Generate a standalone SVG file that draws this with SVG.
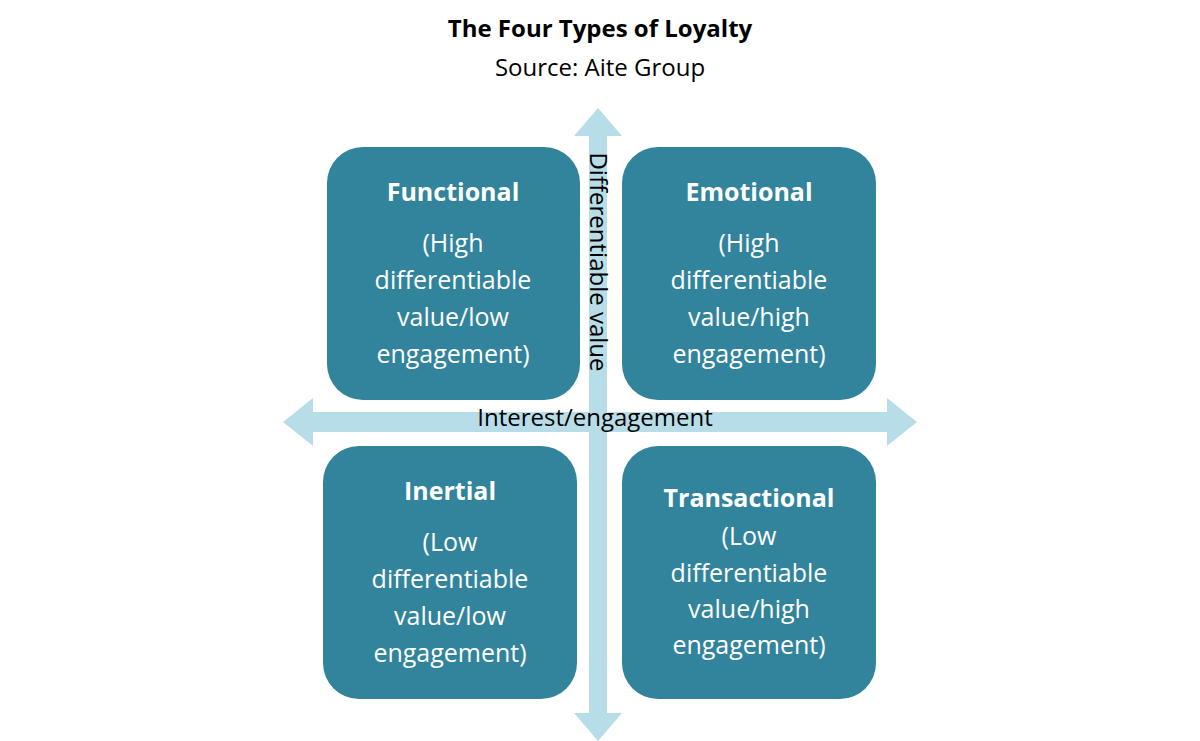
<svg xmlns="http://www.w3.org/2000/svg" width="1200" height="741" viewBox="0 0 1200 741">
<style>
.box{fill:#31849B}
.t{font-family:"Open Sans","Liberation Sans",sans-serif;font-size:25px;fill:#fff;text-anchor:middle}
.b{font-weight:bold}
.k{font-family:"Open Sans","Liberation Sans",sans-serif;font-size:24px;fill:#000;text-anchor:middle}
.ar{fill:#B7DDE8}
</style>
<rect width="1200" height="741" fill="#fff"/>
<text class="k b" x="600" y="37" font-size="24">The Four Types of Loyalty</text>
<text class="k" x="600" y="76">Source: Aite Group</text>
<g id="connectors">
<polygon class="ar" points="598,108 622,136 607,136 607,713 622,713 598,741 574,713 589,713 589,136 574,136"/>
<polygon class="ar" points="283,422 313,398 313,412 887,412 887,398 917,422 887,446 887,432 313,432 313,446"/>
</g>
<g id="functional"><rect class="box" x="327" y="147" width="253" height="253" rx="36"/>
<text class="t b" x="453" y="201">Functional</text>
<text class="t" x="453" y="252">(High</text><text class="t" x="453" y="289">differentiable</text><text class="t" x="453" y="326">value/low</text><text class="t" x="453" y="363">engagement)</text></g>
<g id="emotional"><rect class="box" x="622" y="147" width="254" height="253" rx="36"/>
<text class="t b" x="749" y="201">Emotional</text>
<text class="t" x="749" y="252">(High</text><text class="t" x="749" y="289">differentiable</text><text class="t" x="749" y="326">value/high</text><text class="t" x="749" y="363">engagement)</text></g>
<g id="inertial"><rect class="box" x="323" y="446" width="254" height="253" rx="36"/>
<text class="t b" x="450" y="500">Inertial</text>
<text class="t" x="450" y="551">(Low</text><text class="t" x="450" y="588">differentiable</text><text class="t" x="450" y="625">value/low</text><text class="t" x="450" y="662">engagement)</text></g>
<g id="transactional"><rect class="box" x="622" y="446" width="254" height="253" rx="36"/>
<text class="t b" x="749" y="507">Transactional</text>
<text class="t" x="749" y="545">(Low</text><text class="t" x="749" y="582">differentiable</text><text class="t" x="749" y="618">value/high</text><text class="t" x="749" y="654">engagement)</text></g>
<text class="k" x="595" y="426">Interest/engagement</text>
<text class="k" transform="translate(590,262) rotate(90)" x="0" y="0">Differentiable value</text>
</svg>
